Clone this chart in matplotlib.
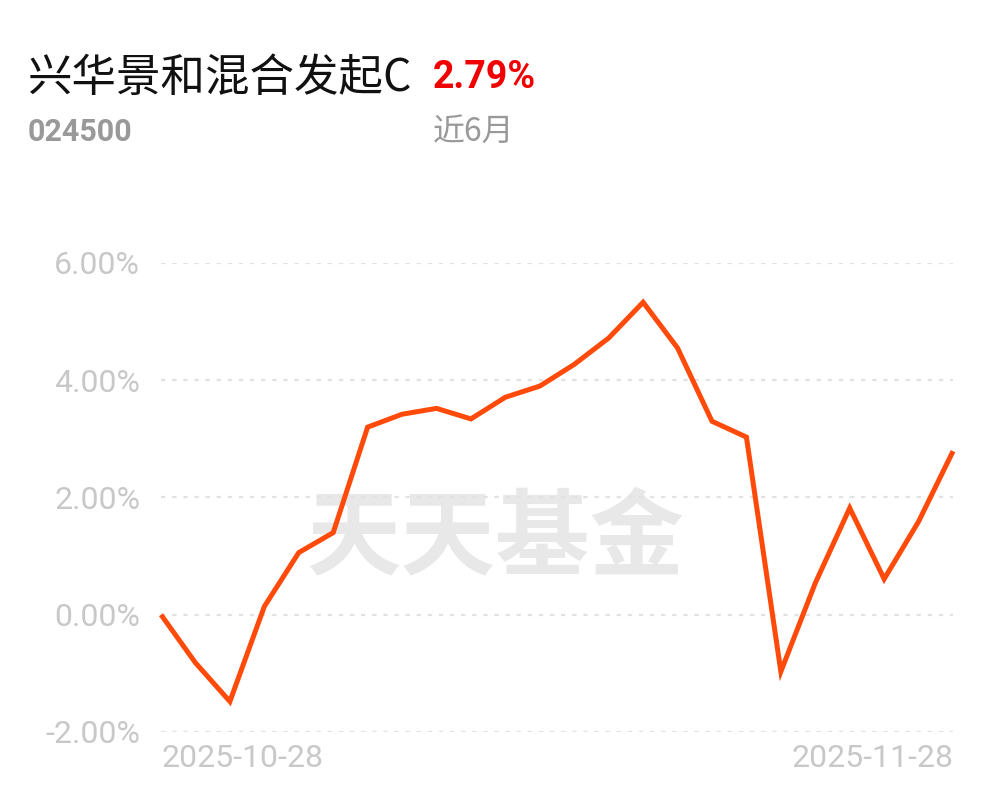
import matplotlib.pyplot as plt

plt.rcParams['font.family'] = ['Roboto', 'Noto Sans CJK SC', 'DejaVu Sans']

fund_name = '兴华景和混合发起C'
fund_code = '024500'
period_return = '2.79%'
period_label = '近6月'

dates = ['2025-10-28', '2025-10-29', '2025-10-30', '2025-10-31',
         '2025-11-03', '2025-11-04', '2025-11-05', '2025-11-06', '2025-11-07',
         '2025-11-10', '2025-11-11', '2025-11-12', '2025-11-13', '2025-11-14',
         '2025-11-17', '2025-11-18', '2025-11-19', '2025-11-20', '2025-11-21',
         '2025-11-24', '2025-11-25', '2025-11-26', '2025-11-27', '2025-11-28']
returns = [0.00, -0.82, -1.48, 0.14, 1.06, 1.40, 3.20, 3.42, 3.52, 3.34,
           3.71, 3.90, 4.27, 4.72, 5.33, 4.55, 3.30, 3.03, -0.97, 0.54,
           1.82, 0.61, 1.59, 2.79]
yticks = [-2, 0, 2, 4, 6]

fig = plt.figure(figsize=(9.97, 8.02), dpi=100)
ax = fig.add_axes([0.1615, 0.0873, 0.7944, 0.5848])

x = list(range(len(dates)))
ax.plot(x, returns, color='#ff4a0a', lw=3.6, solid_joinstyle='miter',
        solid_capstyle='butt', zorder=3, clip_on=False)

ax.set_xlim(0, len(dates) - 1)
ax.set_ylim(-2, 6)
ax.set_yticks(yticks)
ax.set_yticklabels(['%.2f%%' % v for v in yticks])
for v in yticks:
    ax.axhline(v, color='#e2e2e2', lw=1.6, ls=(0, (2, 3)), zorder=1)

ax.set_xticks([0, len(dates) - 1])
ax.set_xticklabels([dates[0], dates[-1]])
xl = ax.get_xticklabels()
xl[0].set_ha('left')
xl[1].set_ha('right')

ax.tick_params(axis='y', length=0, pad=15, labelsize=23, labelcolor='#c8c8c8')
ax.tick_params(axis='x', length=0, pad=9, labelsize=23, labelcolor='#c8c8c8')
for s in ax.spines.values():
    s.set_visible(False)

ax.text(0.4217, 0.409, '天天基金', transform=ax.transAxes, fontsize=68,
        fontweight='bold', color='#e8e8e8', ha='center', va='center',
        family=['Noto Sans CJK SC'], zorder=0)

fig.text(28 / 997, 1 - 78 / 802, fund_name, fontsize=32, color='#111111',
         va='center', ha='left', family=['Noto Sans CJK SC', 'Roboto'])
fig.text(433 / 997, 1 - 78 / 802, period_return, fontsize=27, color='#f00000',
         fontweight='bold', va='center', ha='left')
fig.text(28 / 997, 1 - 132 / 802, fund_code, fontsize=22, color='#999999',
         fontweight='bold', va='center', ha='left')
fig.text(433 / 997, 1 - 132 / 802, period_label, fontsize=23, color='#999999',
         va='center', ha='left', family=['Noto Sans CJK SC'])

fig.savefig('out.png', dpi=100)
